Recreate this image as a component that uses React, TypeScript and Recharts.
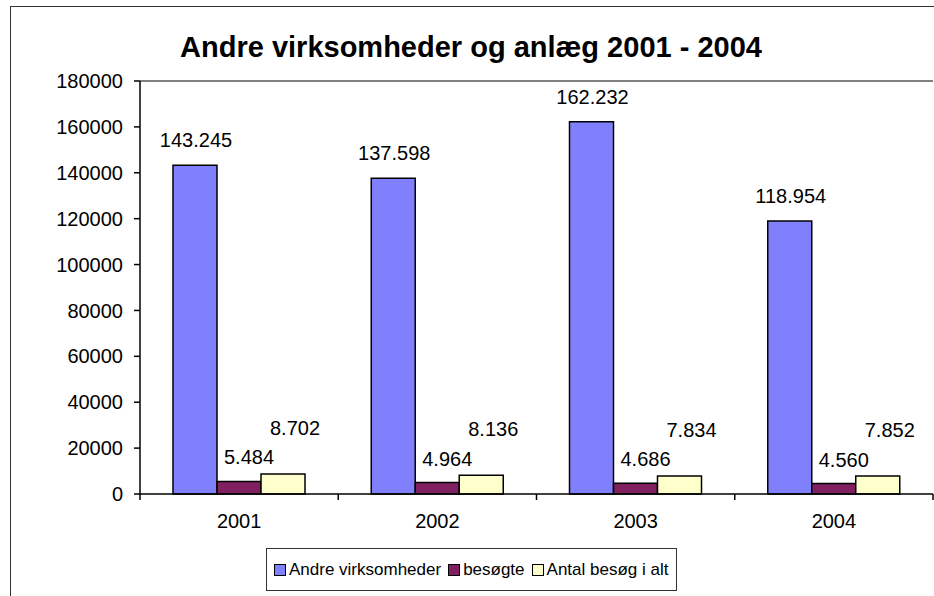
import { BarChart, Bar, XAxis, YAxis, Legend, LabelList, ReferenceLine } from 'recharts';

const years = ['2001', '2002', '2003', '2004'];
const andreVirksomheder = [143245, 137598, 162232, 118954];
const besogte = [5484, 4964, 4686, 4560];
const antalBesog = [8702, 8136, 7834, 7852];
const yTicks = [0, 20000, 40000, 60000, 80000, 100000, 120000, 140000, 160000, 180000];

const series = [
  { key: 'andre', name: 'Andre virksomheder', color: '#8080FF', dx: 1, lift: 18 },
  { key: 'besogte', name: 'besøgte', color: '#802060', dx: 10, lift: 17 },
  { key: 'antal', name: 'Antal besøg i alt', color: '#FFFFCC', dx: 12, lift: 39 },
];

const data = years.map((year, i) => ({
  year,
  andre: andreVirksomheder[i],
  besogte: besogte[i],
  antal: antalBesog[i],
}));

const W = 934;
const H = 596;
const PLOT_LEFT = 140;
const PLOT_RIGHT = 1;
const FONT = '"Liberation Sans", Arial, sans-serif';
const HALF_BAND = (W - PLOT_LEFT - PLOT_RIGHT) / years.length / 2;

const fmt = (v: number) => String(v).replace(/\B(?=(\d{3})+(?!\d))/g, '.');

function YearTick(props: any) {
  const { x, y, payload, index } = props;
  const axisY = y - 8;
  return (
    <g>
      <line x1={x - HALF_BAND} x2={x - HALF_BAND} y1={axisY} y2={axisY + 6} stroke="#000" strokeWidth={1.5} />
      {index === years.length - 1 && (
        <line x1={x + HALF_BAND} x2={x + HALF_BAND} y1={axisY} y2={axisY + 6} stroke="#000" strokeWidth={1.5} />
      )}
      <text x={x} y={axisY + 34} textAnchor="middle" fontSize={20} fontFamily={FONT} fill="#000">
        {payload.value}
      </text>
    </g>
  );
}

function makeLabel(dx: number, lift: number) {
  return (props: any) => {
    const { x, y, width, value } = props;
    return (
      <text x={x + width / 2 + dx} y={y - lift} textAnchor="middle" fontSize={20} fontFamily={FONT} fill="#000">
        {fmt(value)}
      </text>
    );
  };
}

function LegendBox() {
  return (
    <div
      style={{
        boxSizing: 'border-box',
        width: 411,
        height: 43,
        border: '1.5px solid #333',
        background: '#fff',
        display: 'flex',
        alignItems: 'center',
        paddingLeft: 7,
        fontFamily: FONT,
        fontSize: 17,
        color: '#000',
        whiteSpace: 'nowrap',
      }}
    >
      {series.map((s) => (
        <div key={s.key} style={{ display: 'flex', alignItems: 'center', marginRight: 7, flexShrink: 0 }}>
          <span
            style={{
              display: 'inline-block',
              boxSizing: 'border-box',
              width: 12,
              height: 12,
              background: s.color,
              border: '1.5px solid #000',
              marginRight: 3,
            }}
          />
          <span>{s.name}</span>
        </div>
      ))}
    </div>
  );
}

export default function App() {
  return (
    <div style={{ position: 'absolute', left: 0, top: 0, width: W, height: H, overflow: 'hidden', background: '#fff' }}>
      <div
        style={{
          position: 'absolute',
          left: 10,
          top: 6,
          width: 1200,
          height: 900,
          borderLeft: '1.5px solid #333',
          borderTop: '1.5px solid #333',
        }}
      />
      <div
        style={{
          position: 'absolute',
          left: 0,
          width: 942,
          top: 30,
          textAlign: 'center',
          fontFamily: FONT,
          fontWeight: 'bold',
          fontSize: 29,
          lineHeight: '34px',
          color: '#000',
        }}
      >
        Andre virksomheder og anlæg 2001 - 2004
      </div>
      <div style={{ position: 'absolute', left: 0, top: 0 }}>
        <BarChart
          width={W}
          height={H}
          data={data}
          margin={{ top: 81, right: PLOT_RIGHT, bottom: 62, left: 0 }}
          barGap={0}
          barCategoryGap={33}
        >
          <XAxis
            dataKey="year"
            xAxisId="x"
            height={40}
            tickLine={false}
            tickSize={6}
            tickMargin={2}
            axisLine={{ stroke: '#000', strokeWidth: 1.5 }}
            tick={<YearTick />}
            interval={0}
          />
          <YAxis
            yAxisId="l"
            width={PLOT_LEFT}
            domain={[0, 180000]}
            ticks={yTicks}
            interval={0}
            tickSize={6}
            tickMargin={11}
            axisLine={{ stroke: '#000', strokeWidth: 1.5 }}
            tickLine={{ stroke: '#000', strokeWidth: 1.5 }}
            tick={{ fontSize: 20, fontFamily: FONT, fill: '#000' }}
          />
          <YAxis
            yAxisId="r"
            orientation="right"
            width={0}
            domain={[0, 180000]}
            tick={false}
            tickLine={false}
            axisLine={{ stroke: '#d8d8d8', strokeWidth: 1 }}
          />
          <ReferenceLine yAxisId="l" xAxisId="x" y={180000} stroke="#808080" strokeWidth={2} />
          {series.map((s) => (
            <Bar
              key={s.key}
              dataKey={s.key}
              name={s.name}
              xAxisId="x"
              yAxisId="l"
              fill={s.color}
              stroke="#000"
              strokeWidth={1.5}
              isAnimationActive={false}
            >
              <LabelList dataKey={s.key} content={makeLabel(s.dx, s.lift)} />
            </Bar>
          ))}
          <Legend
            layout="vertical"
            verticalAlign="middle"
            align="center"
            content={() => <LegendBox />}
            wrapperStyle={{ left: 266, top: 548, width: 411, height: 43 }}
          />
        </BarChart>
      </div>
    </div>
  );
}
